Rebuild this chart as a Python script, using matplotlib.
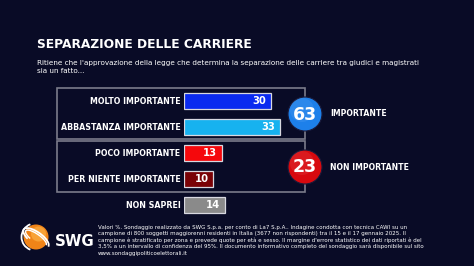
import matplotlib
matplotlib.use("Agg")
import matplotlib.pyplot as plt
from matplotlib.patches import Rectangle, Circle, Arc
import numpy as np

categories = ["MOLTO IMPORTANTE", "ABBASTANZA IMPORTANTE", "POCO IMPORTANTE",
              "PER NIENTE IMPORTANTE", "NON SAPREI"]
values = [30, 33, 13, 10, 14]
bar_colors = ["#0a2af0", "#17b2ef", "#f5080c", "#7a0206", "#8a8a8a"]
group_labels = ["IMPORTANTE", "NON IMPORTANTE"]
group_values = [63, 23]
group_colors = ["#1d80ea", "#d8090e"]

title = "SEPARAZIONE DELLE CARRIERE"
subtitle = ("Ritiene che l'approvazione della legge che determina la separazione delle carriere tra giudici e magistrati\n"
            "sia un fatto...")
footnote = [
    "Valori %. Sondaggio realizzato da SWG S.p.a. per conto di La7 S.p.A.. Indagine condotta con tecnica CAWI su un",
    "campione di 800 soggetti maggiorenni residenti in Italia (3677 non rispondenti) tra il 15 e il 17 gennaio 2025. Il",
    "campione è stratificato per zona e prevede quote per età e sesso. Il margine d'errore statistico dei dati riportati è del",
    "3,5% a un intervallo di confidenza del 95%. Il documento informativo completo del sondaggio sarà disponibile sul sito",
    "www.sondaggipoliticoelettorali.it",
]

W, H = 474, 266
BG = "#090b26"
fig = plt.figure(figsize=(W / 100, H / 100), dpi=100, facecolor=BG)

# overlay axes in pixel coordinates
ov = fig.add_axes([0, 0, 1, 1])
ov.set_xlim(0, W)
ov.set_ylim(H, 0)
ov.axis("off")
ov.set_facecolor(BG)

ov.text(37, 45, title, color="white", fontsize=8.8, fontweight="bold",
        va="center", ha="left", family="DejaVu Sans")
ov.text(37, 67, subtitle, color="white", fontsize=5.2, va="center", ha="left",
        linespacing=1.3, family="DejaVu Sans")

# group boxes
box_col = "#7a7b8a"
ov.add_patch(Rectangle((57, 88), 248, 51, fill=False, ec=box_col, lw=1.2))
ov.add_patch(Rectangle((57, 141), 248, 51, fill=False, ec=box_col, lw=1.2))

# bars axes
bx0, by0, by1 = 184, 88, 218
ax = fig.add_axes([bx0 / W, 1 - by1 / H, 290 / W, (by1 - by0) / H])
ax.set_xlim(0, 100)
ax.set_ylim(len(categories) - 0.5, -0.5)
ax.axis("off")
ax.patch.set_alpha(0)
y = np.arange(len(categories))
ax.barh(y, values, height=0.65, color=bar_colors, edgecolor="#d8d8e0", linewidth=0.9)
for yi, v, c in zip(y, values, categories):
    ax.text(v - 1.6, yi, str(v), color="white", fontsize=7.2, fontweight="bold",
            ha="right", va="center")
    ax.text(-1.2, yi, c, color="white", fontsize=5.7, fontweight="bold",
            ha="right", va="center")

# group circles
for cy, val, lab, col in zip([114, 167], group_values, group_labels, group_colors):
    ov.add_patch(Circle((305, cy), 17, fc=col, ec="#1a1a3a", lw=0.8, zorder=5))
    ov.add_patch(Circle((302, cy - 4), 12, fc="white", alpha=0.07, ec="none", zorder=6))
    ov.text(305, cy + 0.5, str(val), color="white", fontsize=12.5, fontweight="bold",
            ha="center", va="center", zorder=7)
    ov.text(330, cy, lab, color="white", fontsize=5.6, fontweight="bold",
            ha="left", va="center")

# logo
ov.add_patch(Circle((36, 237), 12.5, fc="#f08418", ec="none", zorder=3))
ov.add_patch(Circle((38.5, 234), 7.5, fc="#f8a236", ec="none", zorder=3))
for w_, h_, ang, lw in [(30, 12, 35, 1.3), (25, 8, 35, 1.0)]:
    ov.add_patch(Arc((36, 238), w_, h_, angle=ang, theta1=140, theta2=360,
                     color="white", lw=lw, zorder=4))
ov.add_patch(Arc((35, 237), 27, 27, theta1=110, theta2=250, color="white", lw=1.3, zorder=4))
ov.text(55, 241, "SWG", color="white", fontsize=10.8, fontweight="bold",
        ha="left", va="center", zorder=5)

for i, line in enumerate(footnote):
    ov.text(98, 227 + i * 6.5, line, color="white", fontsize=3.95, ha="left", va="center")

fig.savefig("out.png", dpi=100, facecolor=BG)
